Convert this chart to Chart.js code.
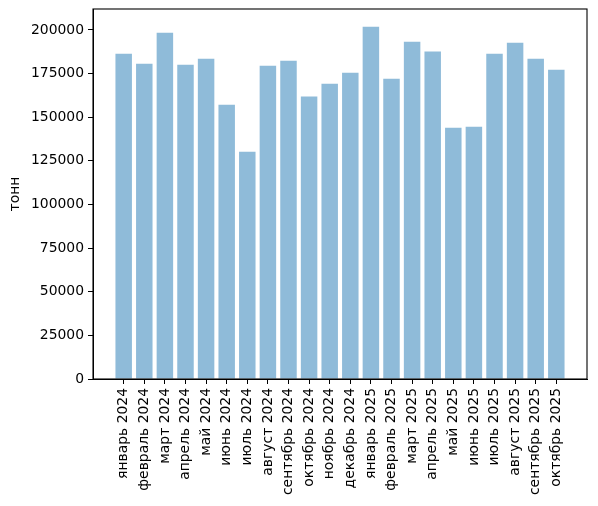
<!DOCTYPE html>
<html>
<head>
<meta charset="utf-8">
<script src="https://cdn.jsdelivr.net/npm/chart.js@4"></script>
<style>
html,body{margin:0;padding:0;background:#fff;}
#wrap{width:598px;height:506px;}
</style>
</head>
<body>
<div id="wrap"><canvas id="c" width="598" height="506"></canvas></div>
<script>
const categories = ["январь 2024","февраль 2024","март 2024","апрель 2024","май 2024","июнь 2024","июль 2024","август 2024","сентябрь 2024","октябрь 2024","ноябрь 2024","декабрь 2024","январь 2025","февраль 2025","март 2025","апрель 2025","май 2025","июнь 2025","июль 2025","август 2025","сентябрь 2025","октябрь 2025"];
const values = [186400,180700,198400,180100,183500,157200,130200,179500,182400,161800,169200,175500,201900,172100,193300,187600,144000,144600,186400,192700,183500,177200];
const yTicks = [0,25000,50000,75000,100000,125000,150000,175000,200000];
const yAxisTitle = "тонн";

const FONT = {family:"DejaVu Sans", size:13.9};
const framePlugin = {
  id:'frame',
  afterDraw(chart){
    const a = chart.chartArea, ctx = chart.ctx;
    ctx.save();
    ctx.strokeStyle = '#000';
    ctx.lineWidth = 1.1;
    ctx.strokeRect(a.left, a.top, a.right - a.left, a.bottom - a.top);
    ctx.restore();
  }
};

new Chart(document.getElementById('c'), {
  type:'bar',
  data:{
    datasets:[{
      data: values.map((v,i)=>({x:i,y:v})),
      backgroundColor:'rgba(31,119,180,0.5)',
      borderWidth:0,
      barPercentage:0.8,
      categoryPercentage:1.0
    }]
  },
  options:{
    responsive:false,
    animation:false,
    devicePixelRatio:1,
    layout:{padding:{left:0,right:11,top:9,bottom:0}},
    plugins:{legend:{display:false},tooltip:{enabled:false}},
    scales:{
      x:{
        type:'linear',
        min:-1.49, max:22.49,
        offset:false,
        afterBuildTicks(scale){ scale.ticks = categories.map((c,i)=>({value:i})); },
        afterFit(scale){ scale.height = 127; scale.paddingLeft = 0; scale.paddingRight = 0; },
        grid:{display:true,offset:false,drawOnChartArea:false,drawTicks:true,tickLength:5,color:'#000',lineWidth:1},
        border:{display:true,color:'#000'},
        ticks:{
          autoSkip:false, minRotation:90, maxRotation:90, padding:4,
          color:'#000', font:FONT,
          callback:(v)=>categories[v]
        }
      },
      y:{
        type:'linear',
        min:0, max:212000,
        afterBuildTicks(scale){ scale.ticks = yTicks.map(v=>({value:v})); },
        afterFit(scale){ scale.width = 93; scale.paddingTop = 0; scale.paddingBottom = 0; },
        grid:{display:true,offset:false,drawOnChartArea:false,drawTicks:true,tickLength:5,color:'#000',lineWidth:1},
        border:{display:true,color:'#000'},
        ticks:{color:'#000', font:FONT, padding:4, callback:(v)=>String(v)},
        title:{display:true,text:yAxisTitle,color:'#000',font:FONT,padding:{top:7,bottom:0}}
      }
    }
  },
  plugins:[framePlugin]
});
</script>
</body>
</html>
